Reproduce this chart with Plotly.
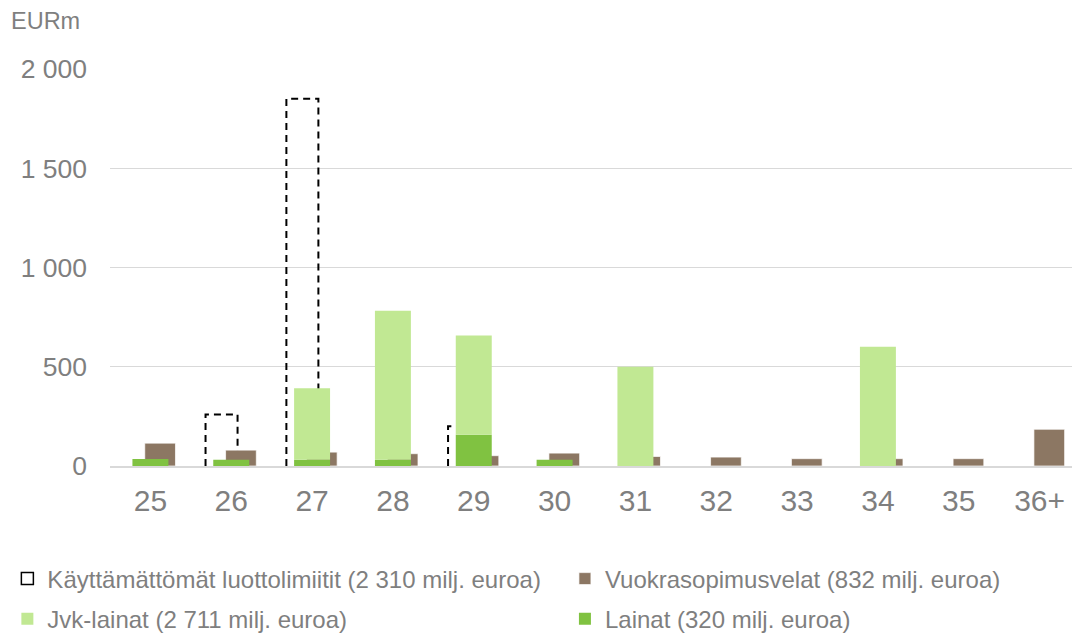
import plotly.graph_objects as go

# ---- data ----
categories = ["25", "26", "27", "28", "29", "30", "31", "32", "33", "34", "35", "36+"]
limits = [0, 260, 1850, 0, 200, 0, 0, 0, 0, 0, 0, 0]          # Käyttämättömät luottolimiitit
leases = [115, 80, 70, 62, 52, 65, 48, 45, 37, 37, 37, 185]     # Vuokrasopimusvelat
jvk = [0, 0, 360, 750, 500, 0, 500, 0, 0, 601, 0, 0]            # Jvk-lainat
loans = [35, 32, 32, 32, 157, 32, 0, 0, 0, 0, 0, 0]             # Lainat
y_tickvals = [0, 500, 1000, 1500, 2000]
y_ticktext = ["0", "500", "1 000", "1 500", "2 000"]
names = [
    "Käyttämättömät luottolimiitit (2 310 milj. euroa)",
    "Vuokrasopimusvelat (832 milj. euroa)",
    "Jvk-lainat (2 711 milj. euroa)",
    "Lainat (320 milj. euroa)",
]

FONT = "Liberation Sans, Arial, sans-serif"
GRAY = "#7f7f7f"
BROWN = "#8c7763"
LIGHTGREEN = "#c1e893"
GREEN = "#80c241"

pos = list(range(len(categories)))

# dashed outline (open rectangles) for unused credit limits
dash_w, dash_c = 0.396, -0.12
dx, dy = [], []
for i, v in zip(pos, limits):
    if v:
        l, r = i + dash_c - dash_w / 2, i + dash_c + dash_w / 2
        dx += [l, l, r, r, None]
        dy += [0, v, v, 0, None]

def nz(vals):
    return [v if v else None for v in vals]

fig = go.Figure()

# base subplot: dashed outlines (drawn beneath the bars)
fig.add_trace(go.Scatter(x=dx, y=dy, mode="lines", showlegend=False, hoverinfo="skip",
                         line=dict(color="black", width=2, dash="7px,5px"),
                         xaxis="x", yaxis="y"))

# legend proxy for the dashed series
fig.add_trace(go.Bar(x=[None], y=[None], name=names[0], legend="legend", legendgroup="a",
                     marker=dict(color="white", line=dict(color="black", width=1.5)),
                     xaxis="x2", yaxis="y2"))

fig.add_trace(go.Bar(x=pos, y=nz(leases), name=names[1], legend="legend2", legendgroup="b",
                     width=0.38, offset=0.12 - 0.19,
                     marker=dict(color=BROWN, line=dict(color="rgba(255,255,255,0.7)", width=1)),
                     xaxis="x2", yaxis="y2", hoverinfo="y"))

fig.add_trace(go.Bar(x=pos, y=nz(loans), name=names[3], legend="legend2", legendgroup="d",
                     width=0.445, offset=-0.2225, base=0,
                     marker=dict(color=GREEN, line=dict(width=0)),
                     xaxis="x2", yaxis="y2", hoverinfo="y"))

fig.add_trace(go.Bar(x=pos, y=nz(jvk), name=names[2], legend="legend", legendgroup="c",
                     width=0.445, offset=-0.2225, base=loans,
                     marker=dict(color=LIGHTGREEN, line=dict(width=0)),
                     xaxis="x2", yaxis="y2", hoverinfo="y"))

# page body has an 8px margin: figure is 1072x626 so it ends at the window edges
W, H = 1072, 626
L, T = 102, 61
legend_common = dict(orientation="v", yanchor="top", y=-0.228, xanchor="left",
                     font=dict(family=FONT, size=24, color=GRAY),
                     bgcolor="rgba(0,0,0,0)", traceorder="grouped", tracegroupgap=6,
                     itemclick=False, itemdoubleclick=False)

fig.update_layout(
    width=W, height=H,
    margin=dict(l=L, r=0, t=T, b=168, autoexpand=False),
    paper_bgcolor="white", plot_bgcolor="white",
    barmode="overlay",
    font=dict(family=FONT, color=GRAY),
    xaxis=dict(range=[-0.5, 11.5], tickvals=pos, ticktext=categories,
               showgrid=False, zeroline=False, showline=True, linecolor="#d9d9d9", linewidth=2,
               ticks="", ticklabelstandoff=7,
               tickfont=dict(family=FONT, size=30, color=GRAY), fixedrange=True),
    yaxis=dict(range=[0, 2000], tickvals=y_tickvals, ticktext=y_ticktext,
               showgrid=True, gridcolor="#d9d9d9", gridwidth=1, zeroline=False, showline=False,
               ticks="", ticklabelstandoff=22,
               tickfont=dict(family=FONT, size=26.5, color=GRAY), fixedrange=True),
    xaxis2=dict(range=[-0.5, 11.5], overlaying="x", visible=False, fixedrange=True),
    yaxis2=dict(range=[0, 2000], overlaying="y", visible=False, fixedrange=True),
    legend=dict(x=-0.1058, **legend_common),
    legend2=dict(x=0.469, **legend_common),
    annotations=[dict(text="EURm", xref="paper", yref="paper", x=-0.104, y=1.12,
                      xanchor="left", yanchor="middle", showarrow=False,
                      font=dict(family=FONT, size=23.5, color=GRAY))],
)

fig.write_html("out.html")
